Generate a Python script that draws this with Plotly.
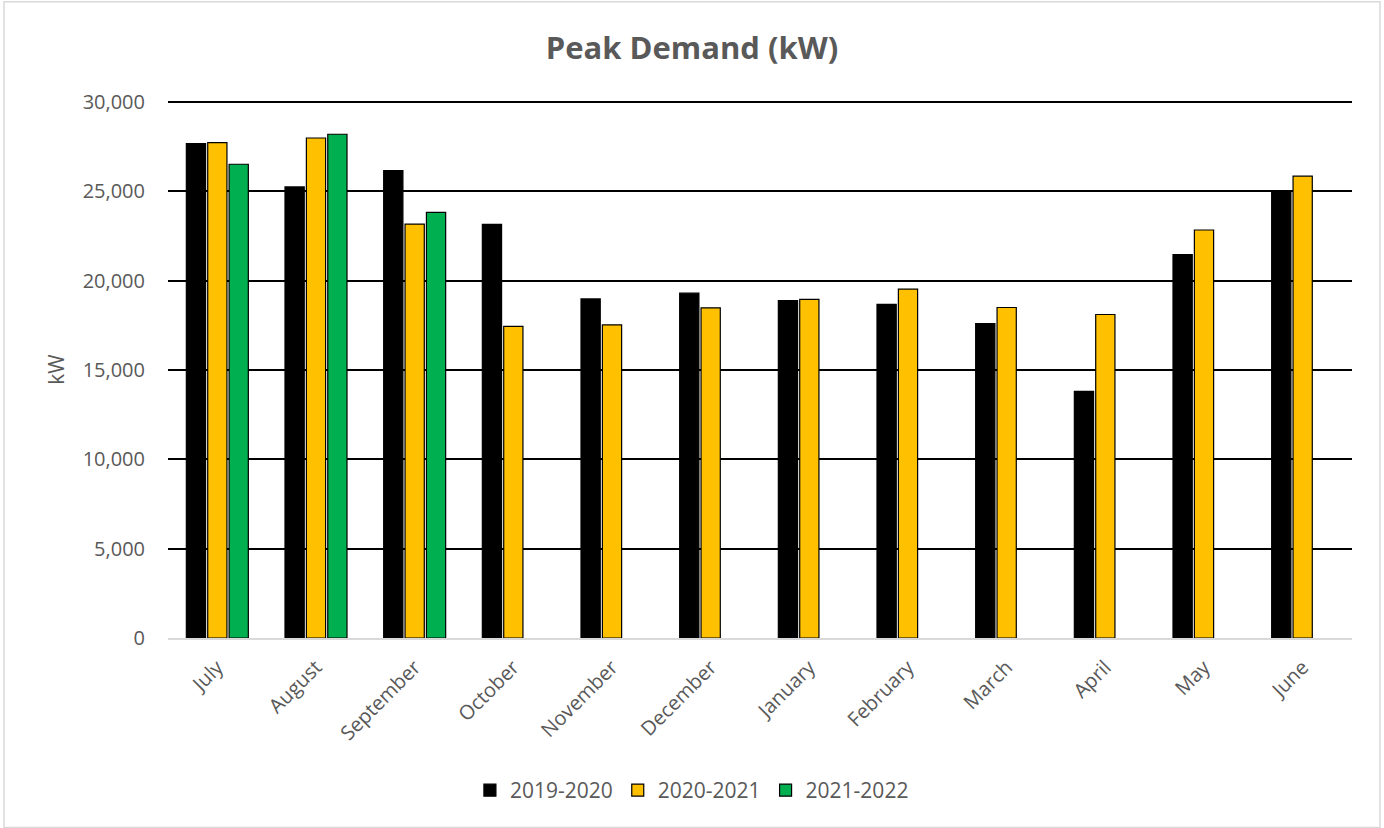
import plotly.graph_objects as go

months = ["July", "August", "September", "October", "November", "December",
          "January", "February", "March", "April", "May", "June"]

kw_2019_2020 = [27680, 25250, 26170, 23150, 18980, 19300,
                18890, 18670, 17600, 13810, 21460, 25030]
kw_2020_2021 = [27730, 27990, 23170, 17440, 17530, 18480,
                18950, 19530, 18500, 18110, 22840, 25850]
kw_2021_2022 = [26520, 28200, 23820, None, None, None,
                None, None, None, None, None, None]

FONT = "Open Sans"
GREY = "#595959"

fig = go.Figure()

for name, vals, color in [
    ("2019-2020", kw_2019_2020, "#000000"),
    ("2020-2021", kw_2020_2021, "#FFC000"),
    ("2021-2022", kw_2021_2022, "#00B050"),
]:
    fig.add_trace(go.Bar(
        x=months,
        y=vals,
        name=name,
        marker=dict(color=color, line=dict(color="#000000", width=1.2)),
    ))

# light border round the whole chart
fig.add_shape(type="rect", xref="paper", yref="paper",
              x0=-0.1385, x1=1.0236, y0=-0.353, y1=1.1847,
              line=dict(color="#D9D9D9", width=1.5), fillcolor="rgba(0,0,0,0)",
              layer="below")

fig.update_layout(
    width=1384,
    height=828,
    paper_bgcolor="white",
    plot_bgcolor="white",
    barmode="group",
    bargap=0.35,
    bargroupgap=0.1,
    font=dict(family=FONT, color=GREY, size=19),
    title=dict(text="<b>Peak Demand (kW)</b>", x=0.5, xanchor="center",
               y=0.942, yanchor="middle",
               font=dict(family=FONT, size=31, color=GREY)),
    xaxis=dict(
        tickangle=-45,
        tickfont=dict(size=20, color=GREY),
        showline=True, linecolor="#D9D9D9", linewidth=1.5,
        showgrid=False,
        ticks="outside", ticklen=8, tickcolor="rgba(0,0,0,0)",
    ),
    yaxis=dict(
        range=[0, 30060],
        dtick=5000,
        tickformat=",",
        tickfont=dict(size=20, color=GREY),
        showgrid=True, gridcolor="#000000", gridwidth=1.5,
        zeroline=False,
        ticks="outside", ticklen=18, tickcolor="rgba(0,0,0,0)",
        title=dict(text="kW", font=dict(size=21, color=GREY), standoff=12),
    ),
    legend=dict(
        orientation="h",
        x=0.255, xanchor="left",
        y=-0.284, yanchor="middle",
        font=dict(size=21, color=GREY),
        itemwidth=30,
    ),
    margin=dict(l=168, r=32, t=101, b=190),
)

fig.write_html("out.html", config={"displayModeBar": False},
               post_script="document.body.style.margin='0';")
